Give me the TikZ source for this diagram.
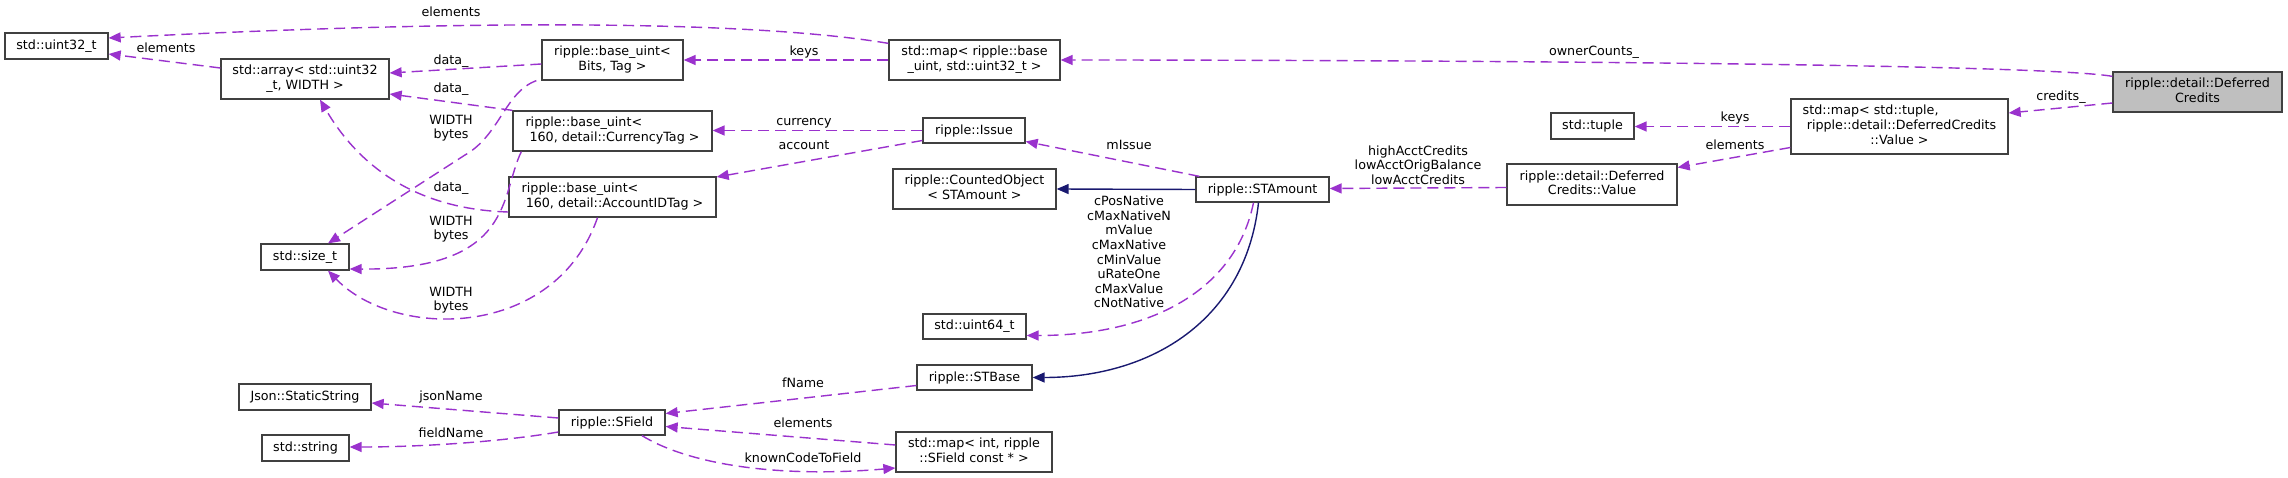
\documentclass[tikz,border=0pt]{standalone}
\usepackage{fontspec}
\setmainfont{DejaVu Sans}
\usepackage{tikz}
\usetikzlibrary{arrows.meta}
\definecolor{usecol}{HTML}{9A32CD}
\definecolor{inhcol}{HTML}{191970}
\definecolor{boxcol}{HTML}{404040}
\definecolor{startcol}{HTML}{BFBFBF}
% first lines left, last line centred (as graphviz does)
\newcommand{\clsname}[2]{\begin{tabular}{@{}l@{}}#1\\\multicolumn{1}{@{}c@{}}{#2}\end{tabular}}

\begin{document}
\begin{tikzpicture}[x=1pt, y=-1pt,
    cls/.style={draw=boxcol, line width=1.3pt, fill=white, inner sep=0pt, font=\fontsize{12.7}{14.6}\selectfont},
    usage/.style={usecol, line width=1.4pt, dash pattern=on 11pt off 6pt, -{Triangle[length=12pt,width=10pt]}},
    inherit/.style={inhcol, line width=1.4pt, -{Triangle[length=12pt,width=10pt]}},
    lab/.style={font=\fontsize{12.7}{14.6}\selectfont, inner sep=0pt, align=center, text=black}]

                  \path[use as bounding box, fill=white] (0,0) rectangle (2288,478);

                  % draw class boxes
                  \node[cls, minimum width=103pt, minimum height=26pt] (uint32) at (56.5,46) {std::uint32\_t};
                  \node[cls, minimum width=168pt, minimum height=40pt] (array) at (305,79) {\clsname{std::array< std::uint32}{\_t, WIDTH >}};
                  \node[cls, minimum width=88pt, minimum height=26pt] (size) at (305,257) {std::size\_t};
                  \node[cls, minimum width=132pt, minimum height=26pt] (json) at (305,397) {Json::StaticString};
                  \node[cls, minimum width=87pt, minimum height=26pt] (string) at (305.5,448) {std::string};

                  \node[cls, minimum width=141pt, minimum height=40pt] (bits) at (612.5,60) {\clsname{ripple::base\_uint<}{Bits, Tag >}};
                  \node[cls, minimum width=199pt, minimum height=40pt] (cur) at (612.5,131) {\clsname{ripple::base\_uint<}{\ 160, detail::CurrencyTag >}};
                  \node[cls, minimum width=207pt, minimum height=40pt] (acc) at (612.5,197) {\clsname{ripple::base\_uint<}{\ 160, detail::AccountIDTag >}};
                  \node[cls, minimum width=106pt, minimum height=25pt] (sfield) at (612,422.5) {ripple::SField};

                  \node[cls, minimum width=171pt, minimum height=40pt] (mapbase) at (974.5,60) {\clsname{std::map< ripple::base}{\_uint, std::uint32\_t >}};
                  \node[cls, minimum width=102pt, minimum height=25pt] (issue) at (974,130.5) {ripple::Issue};
                  \node[cls, minimum width=163pt, minimum height=40pt] (counted) at (974.5,189) {\clsname{ripple::CountedObject}{< STAmount >}};
                  \node[cls, minimum width=103pt, minimum height=25pt] (uint64) at (974.5,326.5) {std::uint64\_t};
                  \node[cls, minimum width=115pt, minimum height=25pt] (stbase) at (974.5,377.5) {ripple::STBase};
                  \node[cls, minimum width=156pt, minimum height=40pt] (mapint) at (974,452) {\clsname{std::map< int, ripple}{::SField const * >}};

                  \node[cls, minimum width=133pt, minimum height=25pt] (stamount) at (1262.5,189.5) {ripple::STAmount};
                  \node[cls, minimum width=83pt, minimum height=26pt] (tuple) at (1592.5,126) {std::tuple};
                  \node[cls, minimum width=170pt, minimum height=41pt] (value) at (1592,184.5) {\clsname{ripple::detail::Deferred}{Credits::Value}};
                  \node[cls, minimum width=217pt, minimum height=55pt] (mapdc) at (1899.5,126.5) {\clsname{std::map< std::tuple,\\\ ripple::detail::DeferredCredits}{::Value >}};
                  \node[cls, fill=startcol, minimum width=169pt, minimum height=40pt] (dc) at (2197.5,92) {\clsname{ripple::detail::Deferred}{Credits}};

                  % draw members of DeferredCredits
                  \draw[usage] ([yshift=-5pt]dc.north west) .. controls +(-80,-14) and +(250,0) .. (mapbase.east)
                  node[lab, at={(1594,52)}] (lowner) {ownerCounts\_};
                  \draw[usage] ([yshift=-11pt]dc.west) -- ([yshift=13.5pt]mapdc.east)
                  node[lab, at={(2061,97)}] (lcredits) {credits\_};
                  \draw[usage] (mapdc.west) -- (mapdc.west -| tuple.east)
                  node[lab, at={(1735,118)}] (lkeysdc) {keys};
                  \draw[usage] ([yshift=-21pt]mapdc.west) -- ([yshift=17pt]value.east)
                  node[lab, at={(1735,145)}] (lelemdc) {elements};
                  \draw[usage] ([yshift=-3pt]value.west) -- ([yshift=1pt]stamount.east)
                  node[lab, at={(1418,165)}] (lacct) {highAcctCredits\\lowAcctOrigBalance\\lowAcctCredits};

                  % draw STAmount members and bases
                  \draw[usage] ([xshift=4pt]stamount.north west) -- ([yshift=-11pt]issue.east)
                  node[lab, at={(1129,145)}] (lmissue) {mIssue};
                  \draw[usage] ([xshift=-9pt]stamount.south) .. controls +(-18,88) and +(124,0) .. ([yshift=-9pt]uint64.east)
                  node[lab, at={(1129,252)}] (lconst) {cPosNative\\cMaxNativeN\\mValue\\cMaxNative\\cMinValue\\uRateOne\\cMaxValue\\cNotNative};
                  \draw[inherit] (stamount.west) -- (counted.east);
                  \draw[inherit] ([xshift=-4pt]stamount.south) .. controls +(-13,118) and +(118,0) .. (stbase.east);

                  % draw Issue and map members
                  \draw[usage] (issue.west) -- (issue.west -| cur.east)
                  node[lab, at={(804,123)}] (lcurrency) {currency};
                  \draw[usage] ([yshift=-10pt]issue.west) -- ([yshift=20pt]acc.east)
                  node[lab, at={(804,145)}] (laccount) {account};
                  \draw[usage] (mapbase.west) -- (bits.east)
                  node[lab, at={(804,52)}] (lkeys) {keys};
                  \draw[usage] ([yshift=-4pt]mapbase.north west) .. controls (760,22) and (500,18) .. ([yshift=8pt]uint32.east)
                  node[lab, at={(451,12)}] (lelemtop) {elements};

                  % draw base_uint members
                  \draw[usage] ([yshift=11pt]array.west) -- ([yshift=-8pt]uint32.east)
                  node[lab, at={(166,48)}] (lelemarr) {elements};
                  \draw[usage] ([yshift=-4pt]bits.west) -- ([yshift=6pt]array.east)
                  node[lab, at={(451,61)}] (ldatabits) {data\_};
                  \draw[usage] (cur.north west) -- ([yshift=-15pt]array.east)
                  node[lab, at={(451,89)}] (ldatacur) {data\_};
                  \draw[usage] ([yshift=-15pt]acc.west) .. controls (440,210) and (370,185) .. ([xshift=15pt]array.south)
                  node[lab, at={(451,188)}] (ldataacc) {data\_};
                  \draw[usage] ([xshift=-5pt]bits.south west) .. controls (505,92) and (500,135) .. (465,155) -- ([xshift=23pt]size.north)
                  node[lab, at={(451,128)}] (lwidthbits) {WIDTH\\bytes};
                  \draw[usage] ([xshift=9pt]cur.south west) .. controls (500,195) and (515,270) .. ([yshift=-12pt]size.east)
                  node[lab, at={(451,229)}] (lwidthcur) {WIDTH\\bytes};
                  \draw[usage] ([xshift=-15pt]acc.south) .. controls (555,340) and (395,340) .. ([xshift=23pt]size.south)
                  node[lab, at={(451,300)}] (lwidthacc) {WIDTH\\bytes};

                  % draw SField members
                  \draw[usage] ([yshift=-8pt]stbase.west) -- ([yshift=9pt]sfield.east)
                  node[lab, at={(803,383)}] (lfname) {fName};
                  \draw[usage] ([yshift=7pt]mapint.west) -- ([yshift=-4pt]sfield.east)
                  node[lab, at={(803,423)}] (lelemint) {elements};
                  \draw[usage] ([xshift=30pt]sfield.south) .. controls (690,465) and (780,478) .. ([yshift=-16pt]mapint.west)
                  node[lab, at={(803,458)}] (lknown) {knownCodeToField};
                  \draw[usage] ([yshift=4.5pt]sfield.west) -- ([yshift=-6pt]json.east)
                  node[lab, at={(451,397)}] (ljson) {jsonName};
                  \draw[usage] ([yshift=-9.5pt]sfield.west) .. controls (500,442) and (420,447) .. ([yshift=1pt]string.east)
                  node[lab, at={(451,433)}] (lfield) {fieldName};

              \end{tikzpicture}
\end{document}
